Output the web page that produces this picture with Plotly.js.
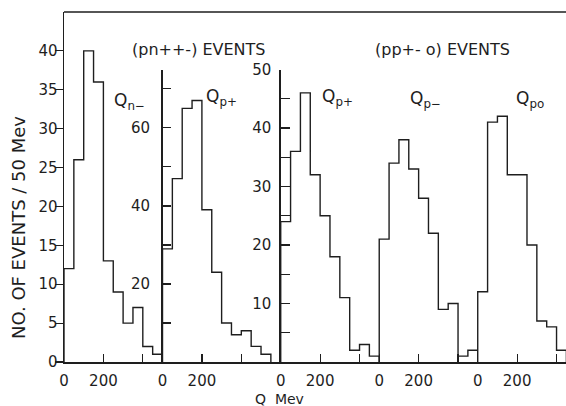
<!DOCTYPE html>
<html>
<head>
<meta charset="utf-8">
<script src="https://cdn.plot.ly/plotly-3.0.1.min.js"></script>
<style>html,body{margin:0;padding:0;background:#fff;}#chart{width:566px;height:406px;}</style>
</head>
<body>
<div id="chart"></div>
<script>
// Bin width (MeV) and histogram counts per 50 MeV bin, starting at Q = 0
const binWidth = 50;
const qnMinus  = [12, 26, 40, 36, 13, 9, 5, 7, 2, 1];           // (pn++-) Q n-
const qpPlusA  = [29, 47, 65, 67, 39, 23, 10, 7, 8, 4, 2];      // (pn++-) Q p+
const qpPlusB  = [24, 36, 46, 32, 25, 18, 11, 2, 3, 1];         // (pp+-o) Q p+
const qpMinus  = [21, 34, 38, 33, 28, 22, 9, 10, 1, 2];         // (pp+-o) Q p-
const qpo      = [12, 41, 42, 32, 32, 20, 7, 6, 2];             // (pp+-o) Q po

// x extent of each panel in MeV
const panelSpans = [500, 600, 500, 500, 448];
const xTickVals = [0, 200, 400];
const xTickText = ['0', '200', ''];

const ink = '#1e1e1e';
const font = 'DejaVu Sans, sans-serif';

function stepTrace(values, xa, ya) {
  const xs = [0], ys = [0];
  values.forEach((v, i) => { xs.push(i * binWidth); ys.push(v); });
  xs.push(values.length * binWidth); ys.push(0);
  return {x: xs, y: ys, xaxis: xa, yaxis: ya, type: 'scatter', mode: 'lines',
          line: {shape: 'hv', color: ink, width: 1.4}, hoverinfo: 'skip', showlegend: false};
}

const traces = [
  stepTrace(qnMinus, 'x', 'y'),
  stepTrace(qpPlusA, 'x2', 'y2'),
  stepTrace(qpPlusB, 'x3', 'y3'),
  stepTrace(qpMinus, 'x4', 'y3'),
  stepTrace(qpo, 'x5', 'y3')
];

const total = panelSpans.reduce((a, b) => a + b, 0);
// panels without their own y axis get a little lead-in so their first edge is not clipped
const leadIn = [0, 0, 0, 10, 10];
let acc = 0;
const domains = panelSpans.map((s, i) => {
  const d = [(acc - leadIn[i]) / total, (acc + s) / total]; acc += s; return d;
});

function xAxis(i) {
  return {
    domain: domains[i], range: [-leadIn[i], panelSpans[i]], anchor: 'y',
    showline: true, linecolor: ink, linewidth: 1.5,
    showgrid: false, zeroline: false,
    ticks: 'inside', ticklen: 8, tickwidth: 1.2, tickcolor: ink,
    tickvals: xTickVals, ticktext: xTickText,
    ticklabelstandoff: 4,
    tickfont: {family: font, size: 15, color: ink}, fixedrange: true
  };
}

const yCommon = {showline: true, linecolor: ink, linewidth: 1.5, showgrid: false, zeroline: false,
  tickwidth: 1.2, tickcolor: ink, tickfont: {family: font, size: 15, color: ink}, fixedrange: true};

function note(text, x, y, size, extra) {
  return Object.assign({text: text, xref: 'paper', yref: 'paper', x: x, y: y,
    xanchor: 'center', yanchor: 'middle', showarrow: false,
    font: {family: font, size: size, color: ink}}, extra || {});
}

const layout = {
  width: 566, height: 406,
  margin: {l: 64, r: 0, t: 12, b: 44},
  paper_bgcolor: '#fff', plot_bgcolor: 'rgba(0,0,0,0)',
  showlegend: false,
  xaxis: xAxis(0), xaxis2: xAxis(1), xaxis3: xAxis(2), xaxis4: xAxis(3), xaxis5: xAxis(4),
  yaxis: Object.assign({}, yCommon, {domain: [0, 1], range: [0, 45], anchor: 'x',
    ticks: 'outside', ticklen: 8, tickvals: [0,5,10,15,20,25,30,35,40], ticklabelstandoff: -6}),
  yaxis2: Object.assign({}, yCommon, {domain: [0, 0.834], range: [0, 74.8], anchor: 'x2',
    ticks: 'inside', ticklen: 8, tickvals: [10,20,30,40,50,60,70],
    ticktext: ['', '20', '', '40', '', '60', ''], ticklabelstandoff: 8}),
  yaxis3: Object.assign({}, yCommon, {domain: [0, 0.8357], range: [0, 50], anchor: 'x3',
    ticks: 'inside', ticklen: 9, tickvals: [5,10,15,20,25,30,35,40,45,50],
    ticktext: ['', '10', '', '20', '', '30', '', '40', '', '50'], ticklabelstandoff: 5}),
  shapes: [{type: 'line', xref: 'paper', yref: 'paper', x0: 0, x1: 1, y0: 1, y1: 1,
            line: {color: ink, width: 1.5}}],
  annotations: [
    note('NO. OF EVENTS / 50 Mev', -0.0896, 0.383, 18, {textangle: -90}),
    note('Q\u00a0\u00a0Mev', 0.430, -0.106, 14),
    note('(pn++-) EVENTS', 0.269, 0.894, 16),
    note('(pp+- o) EVENTS', 0.753, 0.894, 16),
    note('Q<sub>n\u2212</sub>', 0.0956, 0.745, 17, {xanchor: 'left'}),
    note('Q<sub>p+</sub>', 0.279, 0.757, 17, {xanchor: 'left'}),
    note('Q<sub>p+</sub>', 0.510, 0.757, 17, {xanchor: 'left'}),
    note('Q<sub>p\u2212</sub>', 0.685, 0.751, 17, {xanchor: 'left'}),
    note('Q<sub>po</sub>', 0.896, 0.751, 17, {xanchor: 'left'})
  ]
};

Plotly.newPlot('chart', traces, layout, {displayModeBar: false, staticPlot: true});
</script>
</body>
</html>
